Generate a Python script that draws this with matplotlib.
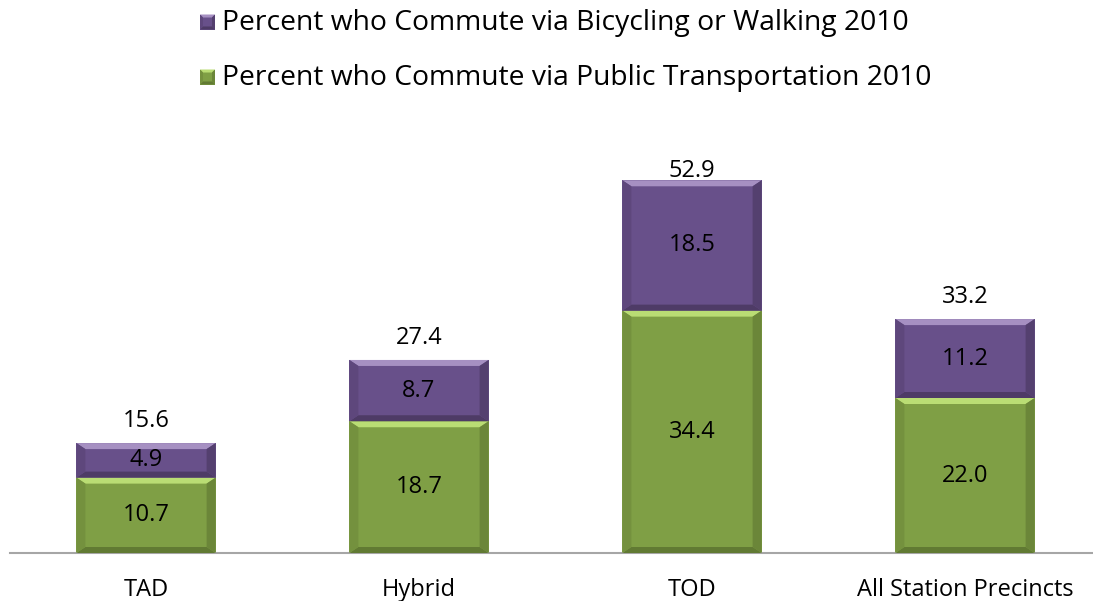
import matplotlib
matplotlib.use("Agg")
import matplotlib.pyplot as plt
from matplotlib.patches import Polygon, Rectangle
import numpy as np

categories = ["TAD", "Hybrid", "TOD", "All Station Precincts"]
transit = [10.7, 18.7, 34.4, 22.0]
bikewalk = [4.9, 8.7, 18.5, 11.2]
totals = [15.6, 27.4, 52.9, 33.2]
series_names = ["Percent who Commute via Bicycling or Walking 2010",
                "Percent who Commute via Public Transportation 2010"]

plt.rcParams['font.family'] = ['Open Sans', 'DejaVu Sans']

purple = "#68508A"
green = "#7F9F45"
purple_shades = {"top": "#A690C2", "left": "#5E477C", "right": "#54406F", "bottom": "#4E3B66"}
green_shades = {"top": "#BADD74", "left": "#74913E", "right": "#6B8639", "bottom": "#617A33"}

W, H = 1093, 601
fig = plt.figure(figsize=(W / 100, H / 100), dpi=100)
ax = fig.add_axes([9.5 / W, (H - 553) / H, 1092 / W, (553 - 150) / H])
ax.set_xlim(-0.5, 3.5)
ax.set_ylim(0, 57.2)
for s in ["top", "left", "right"]:
    ax.spines[s].set_visible(False)
ax.spines["bottom"].set_color("#A6A6A6")
ax.spines["bottom"].set_linewidth(1.5)
ax.set_yticks([])
ax.set_xticks([])
ax.patch.set_alpha(0)

x = np.arange(len(categories))
bw = 0.51
b1 = ax.bar(x, transit, bw, color=green, edgecolor="none", zorder=2)
b2 = ax.bar(x, bikewalk, bw, bottom=transit, color=purple, edgecolor="none", zorder=2)

fig.canvas.draw()
trans = ax.transData


def bevel(rect, shades):
    x0, y0 = rect.get_x(), rect.get_y()
    x1, y1 = x0 + rect.get_width(), y0 + rect.get_height()
    (px0, py0), (px1, py1) = trans.transform([(x0, y0), (x1, y1)])
    bx, by = 9, 6
    inv = trans.inverted()
    polys = {
        "top": [(px0, py1), (px1, py1), (px1 - bx, py1 - by), (px0 + bx, py1 - by)],
        "bottom": [(px0, py0), (px1, py0), (px1 - bx, py0 + by), (px0 + bx, py0 + by)],
        "left": [(px0, py0), (px0, py1), (px0 + bx, py1 - by), (px0 + bx, py0 + by)],
        "right": [(px1, py0), (px1, py1), (px1 - bx, py1 - by), (px1 - bx, py0 + by)],
    }
    for k, pts in polys.items():
        ax.add_patch(Polygon(inv.transform(np.array(pts)), closed=True, facecolor=shades[k],
                             edgecolor="none", zorder=3))


for r in b1:
    bevel(r, green_shades)
for r in b2:
    bevel(r, purple_shades)

fs = 17
label_cap = 54.2  # labels cannot rise above plot area
for i in range(len(categories)):
    ax.text(x[i], transit[i] / 2, f"{transit[i]:.1f}", ha="center", va="center",
            fontsize=fs, zorder=5)
    ax.text(x[i], transit[i] + bikewalk[i] / 2, f"{bikewalk[i]:.1f}", ha="center",
            va="center", fontsize=fs, zorder=5)
    ax.text(x[i], min(totals[i] + 3.1, label_cap), f"{totals[i]:.1f}", ha="center",
            va="center", fontsize=fs, zorder=5)
    ax.text(x[i], -5.3, categories[i], ha="center", va="center", fontsize=fs)

# legend
leg_colors = [(purple, purple_shades), (green, green_shades)]
leg_y = [22, 77]
for (c, sh), yy, name in zip(leg_colors, leg_y, series_names):
    sx0, sx1 = 200, 215
    sy0, sy1 = H - yy - 7.5, H - yy + 7.5
    b = 3
    fig.patches.append(Rectangle((sx0 / W, sy0 / H), (sx1 - sx0) / W, (sy1 - sy0) / H,
                                 transform=fig.transFigure, facecolor=c, edgecolor="none"))
    pts = {
        "top": [(sx0, sy1), (sx1, sy1), (sx1 - b, sy1 - b), (sx0 + b, sy1 - b)],
        "bottom": [(sx0, sy0), (sx1, sy0), (sx1 - b, sy0 + b), (sx0 + b, sy0 + b)],
        "left": [(sx0, sy0), (sx0, sy1), (sx0 + b, sy1 - b), (sx0 + b, sy0 + b)],
        "right": [(sx1, sy0), (sx1, sy1), (sx1 - b, sy1 - b), (sx1 - b, sy0 + b)],
    }
    for k, p in pts.items():
        p = np.array(p, dtype=float) / np.array([W, H])
        fig.patches.append(Polygon(p, closed=True, transform=fig.transFigure,
                                   facecolor=sh[k], edgecolor="none"))
    fig.text(222 / W, 1 - (yy + 1) / H, name, ha="left", va="center", fontsize=20.3)

fig.savefig("out.png", dpi=100)
